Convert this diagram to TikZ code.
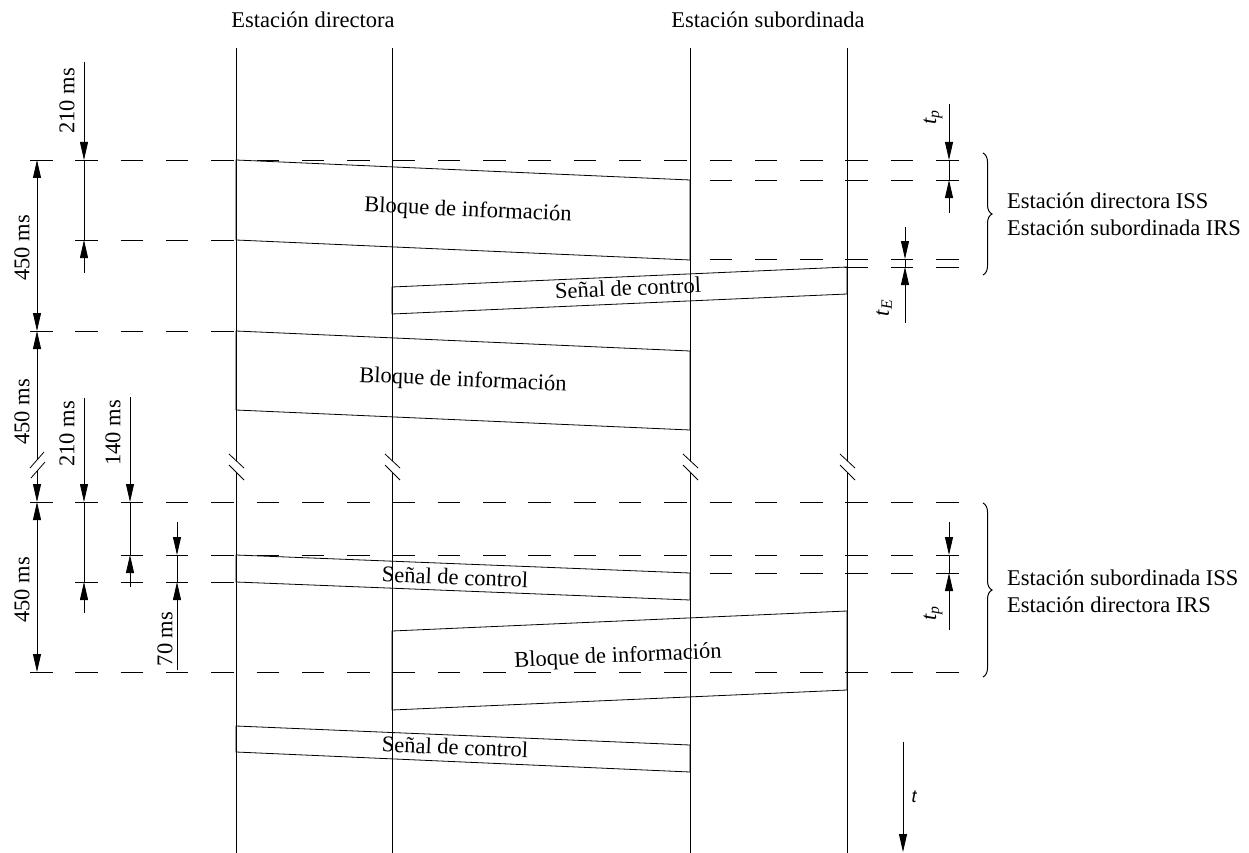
\documentclass[tikz,border=0pt]{standalone}
\usepackage{fontspec}
\setmainfont{Liberation Serif}
\newfontfamily\sansf{Liberation Sans}
\usetikzlibrary{arrows.meta,decorations.pathreplacing}
\begin{document}
\begin{tikzpicture}[x=1pt,y=-1pt,
  ln/.style={line width=0.8pt},
  dsh/.style={line width=0.8pt, dash pattern=on 22.5pt off 22.8pt},
  da/.style={line width=0.8pt,-{Triangle[length=18pt,width=8pt]}},
  dd/.style={line width=0.8pt,{Triangle[length=18pt,width=8pt]}-{Triangle[length=18pt,width=8pt]}},
  dl/.style={line width=0.8pt},
  lbl/.style={font=\fontsize{22.5}{27}\selectfont, inner sep=0pt},
  vlbl/.style={lbl, rotate=90},
  brk/.style={line width=0.8pt},
  brc/.style={line width=1pt, decorate, decoration={brace, amplitude=9pt}}
]
\useasboundingbox (0,0) rectangle (1249,853);

% station lines with breaks
\foreach \x in {236,392,690,847}{
  \draw[ln] (\x,48) -- (\x,461);
  \draw[ln] (\x,472) -- (\x,853);
  \draw[brk] (\x-7,454) -- (\x+8,468);
  \draw[brk] (\x-7,465) -- (\x+8,480);
}

% station names
\node[lbl] (sd) at (313,20) {Estación directora};
\node[lbl] (ss) at (768,20) {Estación subordinada};

% dashed lines
\draw[dsh] (30,160) -- (960,160);
\draw[dsh] (709.5,180) -- (960,180);
\draw[dsh] (75.3,240) -- (236,240);
\draw[dsh] (709.5,259) -- (960,259);
\draw[dsh] (845.4,267) -- (960,267);
\draw[dsh] (30,331) -- (236,331);
\draw[dsh] (30,502) -- (960,502);
\draw[dsh] (120.6,555) -- (960,555);
\draw[dsh] (709.5,573) -- (960,573);
\draw[dsh] (75.3,582) -- (236,582);
\draw[dsh] (30,672) -- (960,672);

% blocks
\draw[ln] (236,160) -- (690,180) -- (690,260) -- (236,240) -- cycle;
\draw[ln] (847,267) -- (392,287) -- (392,314) -- (847,294) -- cycle;
\draw[ln] (236,331) -- (690,351) -- (690,430) -- (236,410) -- cycle;
\draw[ln] (236,555) -- (690,573) -- (690,600) -- (236,582) -- cycle;
\draw[ln] (847,611) -- (392,631) -- (392,710) -- (847,690) -- cycle;
\draw[ln] (236,726) -- (690,745) -- (690,772) -- (236,752) -- cycle;

\node[lbl,rotate=-2.5] (b1) at (468,211) {Bloque de información};
\node[lbl,rotate=2.5] (s1) at (628,288) {Señal de control};
\node[lbl,rotate=-2.5] (b2) at (463,381) {Bloque de información};
\node[lbl,rotate=-2.3] (s2) at (455,577) {Señal de control};
\node[lbl,rotate=2.5] (b3) at (618,657) {Bloque de información};
\node[lbl,rotate=-2.3] (s3) at (455,747) {Señal de control};

% left dimensions (top)
\draw[da] (84,62) -- (84,160);
\draw[dl] (84,160) -- (84,240);
\draw[da] (84,273) -- (84,240);
\node[vlbl] (d210a) at (67,101) {210 ms};
\draw[dd] (37,160) -- (37,331);
\node[vlbl] (d450a) at (22,248) {450 ms};
\draw[line width=0.8pt,{Triangle[length=18pt,width=8pt]}-] (37,331) -- (37,460);
\draw[line width=0.8pt,-{Triangle[length=18pt,width=8pt]}] (37,471) -- (37,502);
\draw[brk] (30,468) -- (44,452);
\draw[brk] (31,478) -- (45,462);
\node[vlbl] (d450b) at (22,412) {450 ms};

% left dimensions (bottom)
\draw[dd] (37,502) -- (37,672);
\node[vlbl] (d450c) at (22,590) {450 ms};
\draw[da] (84,398) -- (84,502);
\draw[dl] (84,502) -- (84,582);
\draw[da] (84,613) -- (84,582);
\node[vlbl] (d210b) at (67,434) {210 ms};
\draw[da] (130,397) -- (130,502);
\draw[dl] (130,502) -- (130,555);
\draw[da] (130,587) -- (130,555);
\node[vlbl] (d140) at (113,433) {140 ms};
\draw[da] (177,522) -- (177,555);
\draw[dl] (177,555) -- (177,582);
\draw[da] (177,670) -- (177,582);
\node[vlbl] (d70) at (165,639) {70 ms};

% right dimensions
\draw[da] (949,104) -- (949,160);
\draw[dl] (949,160) -- (949,180);
\draw[da] (949,213) -- (949,180);
\node[vlbl] (tp1) at (933,117) {\itshape t\textsubscript{p}};
\draw[da] (905,227) -- (905,259);
\draw[dl] (905,259) -- (905,267);
\draw[da] (905,323) -- (905,267);
\node[vlbl] (te) at (884,308) {\itshape t\textsubscript{E}};
\draw[da] (949,522) -- (949,555);
\draw[dl] (949,555) -- (949,573);
\draw[da] (949,630) -- (949,573);
\node[vlbl] (tp2) at (933,613) {\itshape t\textsubscript{p}};

% braces
\draw[brc] (983,153) -- (983,275);
\draw[brc] (983,503) -- (983,677);
\node[lbl,anchor=west,align=left] (r1) at (1007,214) {Estación directora ISS\\Estación subordinada IRS};
\node[lbl,anchor=west,align=left] (r2) at (1007,591) {Estación subordinada ISS\\Estación directora IRS};

% time arrow
\draw[da] (903,742) -- (903,852);
\node[lbl,font=\sansf\itshape\fontsize{18}{20}\selectfont] (t) at (914,797) {t};
\end{tikzpicture}
\end{document}
